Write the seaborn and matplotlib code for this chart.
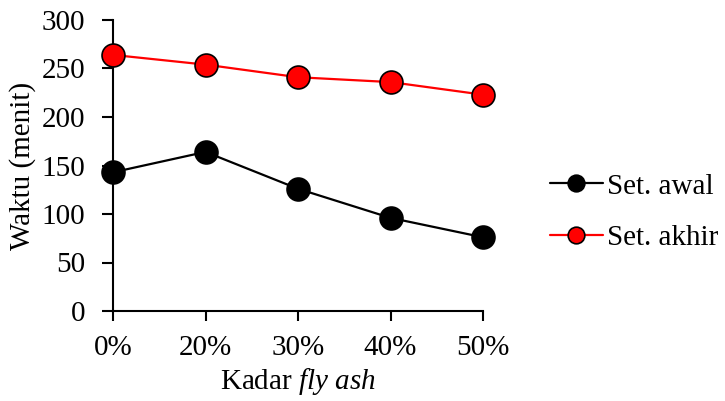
import matplotlib
matplotlib.use("Agg")
import matplotlib.pyplot as plt
import seaborn as sns
import pandas as pd

categories = ["0%", "20%", "30%", "40%", "50%"]
set_awal = [143, 164, 126, 96, 76]
set_akhir = [264, 254, 241, 236, 223]
series_names = ["Set. awal", "Set. akhir"]

sns.set_theme(style="ticks")
plt.rcParams["font.family"] = ["Liberation Serif", "DejaVu Serif"]
plt.rcParams["mathtext.fontset"] = "custom"
plt.rcParams["mathtext.rm"] = "Liberation Serif"
plt.rcParams["mathtext.it"] = "Liberation Serif:italic"
plt.rcParams["text.color"] = "black"
plt.rcParams["axes.labelcolor"] = "black"

df = pd.DataFrame({
    "Kadar": categories * 2,
    "Waktu": set_awal + set_akhir,
    "Seri": [series_names[0]] * len(categories) + [series_names[1]] * len(categories),
})

fig = plt.figure(figsize=(7.25, 4.01), dpi=100)
ax = fig.add_axes([113/725, 1-311/401, (483-113)/725, (311-20)/401])

colors = {"Set. awal": "black", "Set. akhir": "#ff0000"}
for name in series_names:
    sub = df[df["Seri"] == name]
    sns.lineplot(data=sub, x="Kadar", y="Waktu", ax=ax, color=colors[name],
                 marker="o", markersize=16.5, markeredgecolor="black",
                 markeredgewidth=1.2, linewidth=1.6, label=name,
                 sort=False, clip_on=False, zorder=3)

FS = 21
ax.set_xlim(0, 4)
ax.set_ylim(0, 300)
ax.set_yticks(range(0, 301, 50))
for s in ["top", "right"]:
    ax.spines[s].set_visible(False)
for s in ["left", "bottom"]:
    ax.spines[s].set_linewidth(1.5)
    ax.spines[s].set_color("black")
ax.tick_params(axis="both", which="major", labelsize=FS, colors="black",
               labelcolor="black", width=1.5, direction="out")
ax.tick_params(axis="x", length=7, pad=10)
ax.tick_params(axis="y", length=8, pad=12)
ax.set_ylabel("Waktu (menit)", fontsize=FS, color="black", labelpad=4)
ax.set_xlabel(r"Kadar $\mathit{fly\ ash}$", fontsize=FS, color="black", labelpad=4)

leg = ax.legend(loc="center left", bbox_to_anchor=(550/725, 1-212/401),
                bbox_transform=fig.transFigure, frameon=False, fontsize=FS,
                handlelength=1.8, handletextpad=0.15, labelspacing=0.85,
                borderaxespad=0, borderpad=0)
for t in leg.get_texts():
    t.set_color("black")
for h in leg.legend_handles:
    h.set_markersize(12)

fig.savefig("out.png", dpi=100)
